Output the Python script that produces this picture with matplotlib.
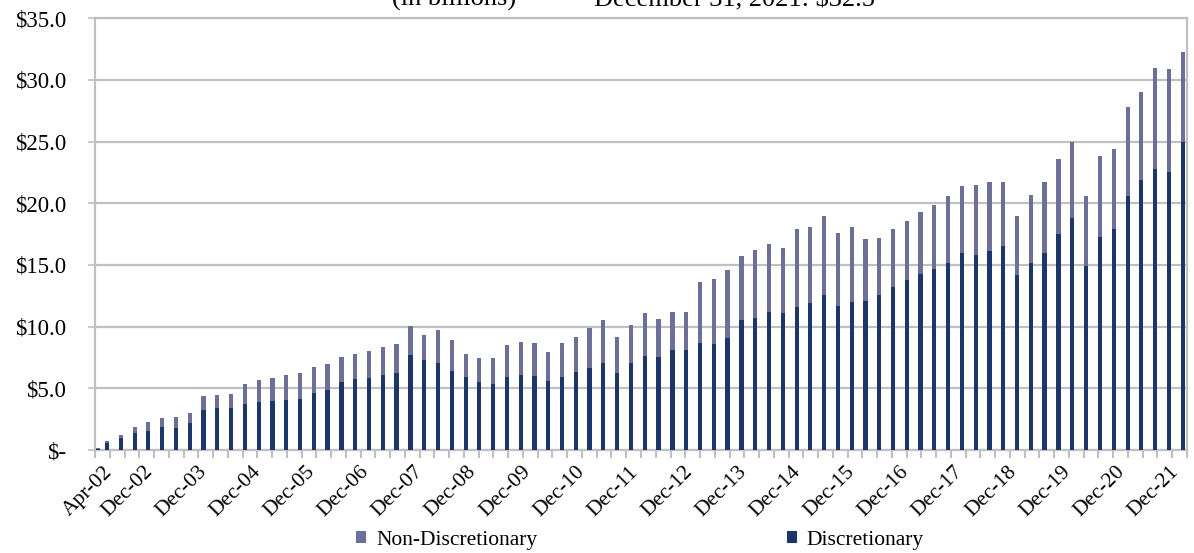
import numpy as np
import pandas as pd
import matplotlib
matplotlib.use('Agg')
import matplotlib.pyplot as plt
import matplotlib.dates as mdates

plt.rcParams['font.family'] = ['Liberation Serif', 'DejaVu Serif']

# quarterly AUM, $ billions (Apr-02 inception, then quarter ends)
dates = pd.DatetimeIndex([pd.Timestamp('2002-04-30')]).append(
    pd.date_range('2002-06-30', '2021-12-31', freq='QE'))

discretionary = [0.06, 0.54, 0.95, 1.35, 1.57, 1.84, 1.76, 2.22, 3.27, 3.38,
                 3.38, 3.70, 3.86, 3.95, 4.03, 4.11, 4.65, 4.86, 5.49, 5.72,
                 5.81, 6.05, 6.22, 7.68, 7.27, 7.03, 6.38, 5.92, 5.49, 5.32,
                 5.89, 6.05, 5.97, 5.57, 5.89, 6.32, 6.62, 7.05, 6.24, 7.05,
                 7.6, 7.5, 8.1, 8.1, 8.65, 8.6, 9.1, 10.5, 10.7, 11.2,
                 11.1, 11.6, 11.9, 12.6, 11.7, 12.0, 12.1, 12.6, 13.2, 13.8,
                 14.3, 14.7, 15.2, 16.0, 15.8, 16.1, 16.5, 14.2, 15.2, 16.0,
                 17.5, 18.8, 14.9, 17.3, 17.9, 20.6, 21.9, 22.8, 22.5, 25.0]
non_discretionary = [0.12, 0.22, 0.27, 0.49, 0.71, 0.75, 0.94, 0.81, 1.14, 1.08,
                     1.16, 1.65, 1.84, 1.91, 2.05, 2.16, 2.08, 2.11, 2.04, 2.09,
                     2.19, 2.33, 2.40, 2.35, 2.08, 2.73, 2.54, 1.84, 1.94, 2.17,
                     2.60, 2.73, 2.73, 2.40, 2.79, 2.87, 3.30, 3.46, 2.92, 3.06,
                     3.5, 3.1, 3.1, 3.1, 4.95, 5.3, 5.5, 5.2, 5.5, 5.5,
                     5.3, 6.3, 6.2, 6.4, 5.9, 6.1, 5.0, 4.6, 4.7, 4.8,
                     5.0, 5.2, 5.4, 5.4, 5.7, 5.6, 5.2, 4.8, 5.5, 5.7,
                     6.1, 6.2, 5.7, 6.5, 6.5, 7.2, 7.1, 8.2, 8.4, 7.3]

label_idx = [0] + list(range(3, len(dates), 4))
tick_labels = [dates[i].strftime('%b-%y') for i in label_idx]

yticks = [0, 5, 10, 15, 20, 25, 30, 35]
ytick_labels = ['\\$-'] + ['\\${:.1f}'.format(v) for v in yticks[1:]]

col_disc = '#1c3667'
col_nond = '#6c6f98'
col_grid = '#c0c0c0'
fs = 15.5

x = mdates.date2num(dates.to_pydatetime())
x0 = mdates.date2num(pd.Timestamp('2002-04-12').to_pydatetime())
x1 = mdates.date2num(pd.Timestamp('2022-01-28').to_pydatetime())

fig = plt.figure(figsize=(11.94, 5.53), dpi=100)
ax = fig.add_axes([95/1194, 1-450/553, (1187-95)/1194, (450-18.3)/553])

ax.bar(x, discretionary, width=28, color=col_disc, label='Discretionary', zorder=3)
ax.bar(x, non_discretionary, width=28, bottom=discretionary, color=col_nond,
       label='Non-Discretionary', zorder=3)

ax.set_ylim(0, 35)
ax.set_xlim(x0, x1)
ax.set_yticks(yticks)
ax.set_yticklabels(ytick_labels, fontsize=fs + 1)
ax.yaxis.grid(True, color=col_grid, lw=1.6, zorder=0)
ax.tick_params(axis='y', length=5, width=1.2, color=col_grid, pad=16)

# category labels sit on their own (slightly tighter) spacing, like the Excel original
lab_px = np.array([103.0] + [143.0 + 54.0 * k for k in range(len(label_idx) - 1)])
lab_pos = x0 + (lab_px - 95) / 1092 * (x1 - x0)
ax.set_xticks(lab_pos)
ax.set_xticklabels(tick_labels, rotation=45, ha='right', va='top',
                   rotation_mode='anchor', fontsize=fs)
ax.tick_params(axis='x', which='major', length=0, pad=9)

ax.set_xticks(np.linspace(x0, x1, 75), minor=True)
ax.tick_params(axis='x', which='minor', length=6, width=1.5, color=col_grid)

for s in ax.spines.values():
    s.set_color(col_grid)
    s.set_linewidth(1.6)

fig.text(454/1194, 1-6/553, '(in billions)', ha='center', va='baseline', fontsize=19)
fig.text(734/1194, 1-6/553, 'December 31, 2021: \\$32.5', ha='center', va='baseline',
         fontsize=19)

h, l = ax.get_legend_handles_labels()
fig.legend(h[::-1], l[::-1], loc='center', bbox_to_anchor=(640/1194, 1-540/553),
           ncol=2, frameon=False, fontsize=fs, handlelength=0.47, handleheight=0.47,
           handletextpad=0.45, columnspacing=11.6, borderpad=0)

fig.savefig('out.png', dpi=100)
